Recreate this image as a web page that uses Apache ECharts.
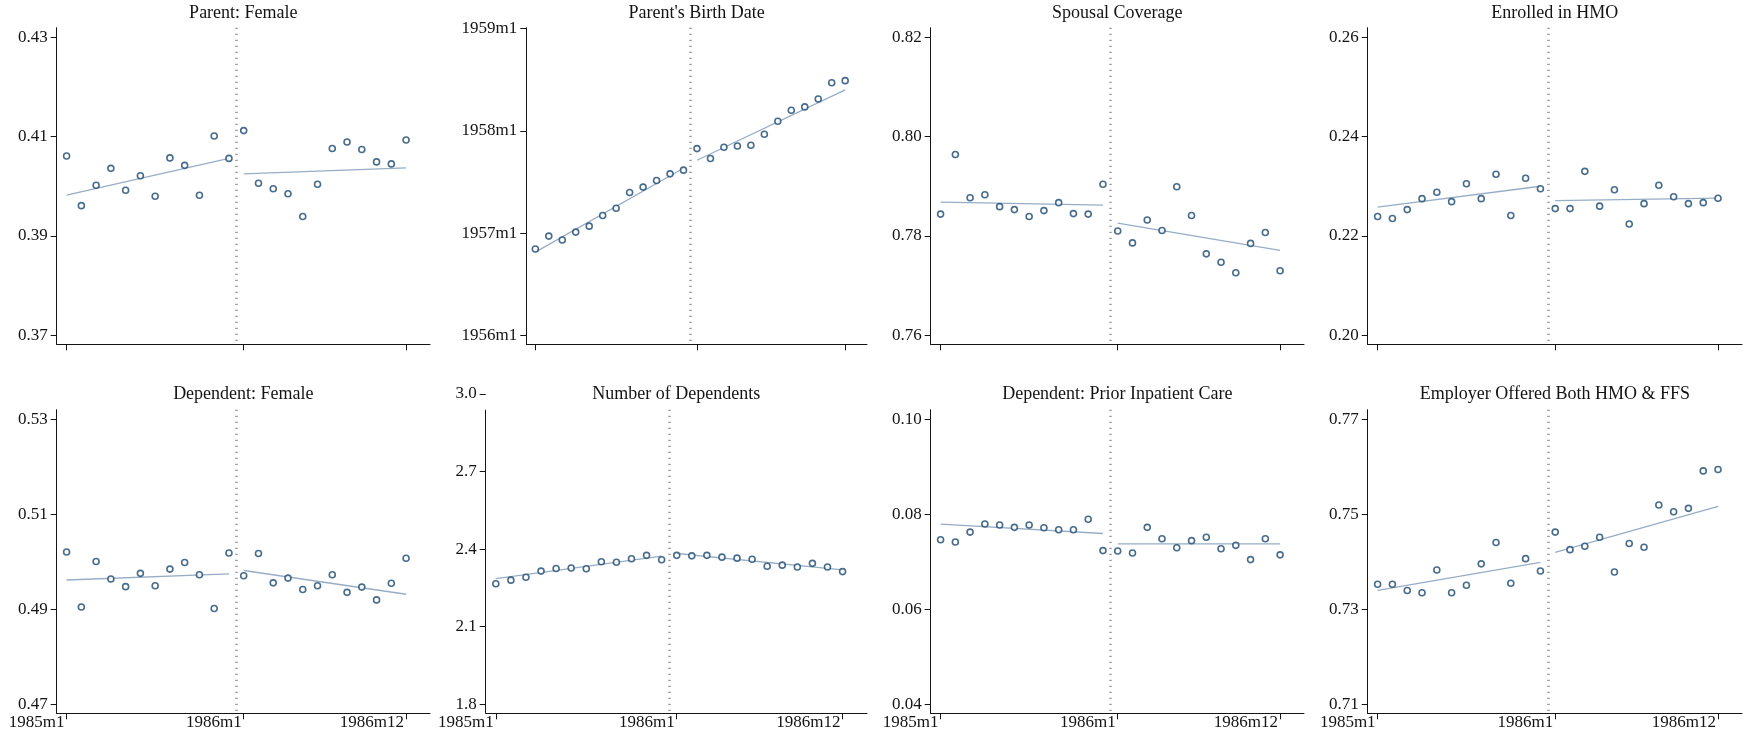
<!DOCTYPE html>
<html>
<head>
<meta charset="utf-8">
<script src="https://cdn.jsdelivr.net/npm/echarts@6/dist/echarts.min.js"></script>
<style>
  html, body { margin: 0; padding: 0; background: #ffffff; }
  #chart { width: 1748px; height: 738px; }
</style>
</head>
<body>
<div id="chart"></div>
<script>
// Month labels for the 24 monthly cells (x = 0 .. 23)
const monthLabels = ['1985m1', '1985m2', '1985m3', '1985m4', '1985m5', '1985m6',
  '1985m7', '1985m8', '1985m9', '1985m10', '1985m11', '1985m12',
  '1986m1', '1986m2', '1986m3', '1986m4', '1986m5', '1986m6',
  '1986m7', '1986m8', '1986m9', '1986m10', '1986m11', '1986m12'];
const xTickMonths = [0, 12, 23];
const cutoffMonth = 11.5;

// Monthly means; fits are [pre start, pre end, post start, post end]
const parentFemale = [0.4061, 0.3961, 0.4002, 0.4036, 0.3992, 0.4021, 0.3980, 0.4057, 0.4042, 0.3982, 0.4101, 0.4056,
  0.4112, 0.4006, 0.3995, 0.3985, 0.3939, 0.4004, 0.4076, 0.4089, 0.4074, 0.4049, 0.4045, 0.4093];
const parentFemaleFit = [0.3982, 0.4056, 0.4025, 0.4037];
const parentFemaleTicks = [0.37, 0.39, 0.41, 0.43];

const parentBirth = [1956.844, 1956.971, 1956.932, 1957.010, 1957.068, 1957.173, 1957.244, 1957.397, 1957.450, 1957.515, 1957.580, 1957.616,
  1957.827, 1957.730, 1957.840, 1957.853, 1957.860, 1957.967, 1958.094, 1958.202, 1958.235, 1958.313, 1958.472, 1958.492];
const parentBirthFit = [1956.814, 1957.635, 1957.713, 1958.401];
const parentBirthTicks = [1956, 1957, 1958, 1959];

const spousalCoverage = [0.7844, 0.7964, 0.7877, 0.7883, 0.7859, 0.7853, 0.7839, 0.7851, 0.7867, 0.7845, 0.7844, 0.7904,
  0.7810, 0.7786, 0.7832, 0.7811, 0.7899, 0.7841, 0.7764, 0.7747, 0.7726, 0.7785, 0.7807, 0.7730];
const spousalCoverageFit = [0.7868, 0.7862, 0.7826, 0.7771];
const spousalCoverageTicks = [0.76, 0.78, 0.80, 0.82];

const enrolledHMO = [0.2239, 0.2235, 0.2253, 0.2275, 0.2288, 0.2269, 0.2305, 0.2275, 0.2324, 0.2241, 0.2316, 0.2295,
  0.2255, 0.2255, 0.2330, 0.2260, 0.2293, 0.2224, 0.2265, 0.2302, 0.2279, 0.2265, 0.2267, 0.2276];
const enrolledHMOFit = [0.2258, 0.2300, 0.2271, 0.2276];
const enrolledHMOTicks = [0.20, 0.22, 0.24, 0.26];

const dependentFemale = [0.5021, 0.4905, 0.5001, 0.4964, 0.4948, 0.4976, 0.4950, 0.4985, 0.4999, 0.4973, 0.4902, 0.5019,
  0.4971, 0.5018, 0.4956, 0.4966, 0.4942, 0.4950, 0.4973, 0.4936, 0.4947, 0.4920, 0.4955, 0.5008];
const dependentFemaleFit = [0.4962, 0.4975, 0.4982, 0.4932];
const dependentFemaleTicks = [0.47, 0.49, 0.51, 0.53];

const numberDependents = [2.266, 2.280, 2.291, 2.315, 2.325, 2.327, 2.324, 2.351, 2.349, 2.363, 2.376, 2.359,
  2.376, 2.374, 2.376, 2.369, 2.365, 2.361, 2.334, 2.338, 2.331, 2.345, 2.331, 2.313];
const numberDependentsFit = [2.286, 2.373, 2.383, 2.320];
const numberDependentsTicks = [1.8, 2.1, 2.4, 2.7, 3.0];

const priorInpatient = [0.0747, 0.0742, 0.0763, 0.0780, 0.0778, 0.0773, 0.0778, 0.0772, 0.0768, 0.0768, 0.0790, 0.0724,
  0.0723, 0.0719, 0.0773, 0.0749, 0.0730, 0.0745, 0.0752, 0.0728, 0.0735, 0.0705, 0.0749, 0.0715];
const priorInpatientFit = [0.0780, 0.0760, 0.0738, 0.0738];
const priorInpatientTicks = [0.04, 0.06, 0.08, 0.10];

const bothOffered = [0.7353, 0.7353, 0.7340, 0.7335, 0.7383, 0.7335, 0.7351, 0.7396, 0.7441, 0.7355, 0.7407, 0.7381,
  0.7463, 0.7426, 0.7433, 0.7452, 0.7379, 0.7439, 0.7431, 0.7520, 0.7506, 0.7513, 0.7592, 0.7595];
const bothOfferedFit = [0.7340, 0.7399, 0.7420, 0.7517];
const bothOfferedTicks = [0.71, 0.73, 0.75, 0.77];

// Panel layout (pixel boxes of each plot region and its y range)
const X_MIN = -0.67, X_MAX = 24.62;
const ROW_TOP = { y0: 27.7, y1: 344.3 };
const ROW_BOTTOM = { y0: 409.7, y1: 713.3 };
const fmt2 = v => v.toFixed(2);

const panels = [
  { title: 'Parent: Female', values: parentFemale, fit: parentFemaleFit, ticks: parentFemaleTicks,
    fmt: fmt2, x0: 56.7, x1: 430, row: ROW_TOP, yMin: 0.3682, yMax: 0.4319 },
  { title: "Parent's Birth Date", values: parentBirth, fit: parentBirthFit, ticks: parentBirthTicks,
    fmt: v => Math.round(v) + 'm1', x0: 526.3, x1: 867, row: ROW_TOP, yMin: 1955.912, yMax: 1959.01 },
  { title: 'Spousal Coverage', values: spousalCoverage, fit: spousalCoverageFit, ticks: spousalCoverageTicks,
    fmt: fmt2, x0: 930.7, x1: 1304, row: ROW_TOP, yMin: 0.7582, yMax: 0.8219 },
  { title: 'Enrolled in HMO', values: enrolledHMO, fit: enrolledHMOFit, ticks: enrolledHMOTicks,
    fmt: fmt2, x0: 1367.7, x1: 1742, row: ROW_TOP, yMin: 0.1982, yMax: 0.2619 },
  { title: 'Dependent: Female', values: dependentFemale, fit: dependentFemaleFit, ticks: dependentFemaleTicks,
    fmt: fmt2, x0: 56.7, x1: 430, row: ROW_BOTTOM, yMin: 0.4681, yMax: 0.5321, xLabels: true },
  // the 3.0 tick sits above the drawn axis line, so the plot box reaches up to 3.0
  { title: 'Number of Dependents', values: numberDependents, fit: numberDependentsFit, ticks: numberDependentsTicks,
    fmt: v => v.toFixed(1), x0: 485.7, x1: 867, row: { y0: 394, y1: 713.3 }, yMin: 1.765, yMax: 3.0,
    lineTop: 2.939, titleTop: 385, xLabels: true },
  { title: 'Dependent: Prior Inpatient Care', values: priorInpatient, fit: priorInpatientFit, ticks: priorInpatientTicks,
    fmt: fmt2, x0: 930.7, x1: 1304, row: ROW_BOTTOM, yMin: 0.0381, yMax: 0.1021, xLabels: true },
  { title: 'Employer Offered Both HMO & FFS', values: bothOffered, fit: bothOfferedFit, ticks: bothOfferedTicks,
    fmt: fmt2, x0: 1367.7, x1: 1742, row: ROW_BOTTOM, yMin: 0.7081, yMax: 0.7721, xLabels: true }
];

const FONT = 'Liberation Serif';
const INK = '#141414';
const MARKER = '#1a476f';
const FIT = '#97adc6';
const CUTOFF = '#9a9a9a';

const grids = [], xAxes = [], yAxes = [], titles = [], series = [];

panels.forEach((p, i) => {
  grids.push({ left: p.x0, top: p.row.y0, width: p.x1 - p.x0, height: p.row.y1 - p.row.y0, containLabel: false });

  titles.push({
    text: p.title,
    left: (p.x0 + p.x1) / 2,
    top: p.titleTop !== undefined ? p.titleTop : (p.row === ROW_TOP ? 4 : 385),
    textAlign: 'center',
    padding: 0,
    textStyle: { fontFamily: FONT, fontSize: 18, fontWeight: 'normal', color: INK }
  });

  xAxes.push({
    type: 'value', gridIndex: i, min: X_MIN, max: X_MAX,
    splitLine: { show: false },
    axisLine: { show: true, onZero: false, lineStyle: { color: INK, width: 1 } },
    axisTick: { show: true, length: 6, customValues: xTickMonths, lineStyle: { color: INK, width: 1 } },
    axisLabel: {
      show: !!p.xLabels, customValues: xTickMonths, margin: 1,
      align: 'right', verticalAlign: 'top', padding: [0, 2, 0, 0],
      fontFamily: FONT, fontSize: 17, lineHeight: 17, color: INK,
      formatter: v => monthLabels[Math.round(v)]
    }
  });

  yAxes.push({
    type: 'value', gridIndex: i, min: p.yMin, max: p.yMax,
    splitLine: { show: false },
    axisLine: { show: p.lineTop === undefined, onZero: false, lineStyle: { color: INK, width: 1 } },
    axisTick: { show: true, length: 6, customValues: p.ticks, lineStyle: { color: INK, width: 1 } },
    axisLabel: {
      show: true, customValues: p.ticks, margin: 9,
      fontFamily: FONT, fontSize: 17, color: INK,
      formatter: p.fmt
    }
  });

  const cutoffLine = {
    silent: true, symbol: ['none', 'none'], animation: false,
    label: { show: false },
    lineStyle: { color: CUTOFF, width: 2.5, type: [1.2, 4.8] },
    data: [
      [{ coord: [cutoffMonth, p.lineTop !== undefined ? p.lineTop : p.yMax] }, { coord: [cutoffMonth, p.yMin] }]
    ]
  };

  series.push({
    type: 'scatter', xAxisIndex: i, yAxisIndex: i, z: 3,
    symbol: 'circle', symbolSize: 6,
    itemStyle: { color: '#ffffff', borderColor: MARKER, borderWidth: 1.6 },
    data: p.values.map((v, m) => [m, v]),
    markLine: cutoffLine
  });

  // left-hand y axis line for the panel whose tick range overruns the line
  if (p.lineTop !== undefined) {
    series.push({
      type: 'line', xAxisIndex: i, yAxisIndex: i, data: [], silent: true,
      markLine: {
        silent: true, symbol: ['none', 'none'], animation: false, label: { show: false },
        lineStyle: { color: INK, width: 1, type: 'solid' },
        data: [[{ coord: [X_MIN, p.lineTop] }, { coord: [X_MIN, p.yMin] }]]
      }
    });
  }

  series.push({
    type: 'line', xAxisIndex: i, yAxisIndex: i, z: 2, symbol: 'none', silent: true,
    lineStyle: { color: FIT, width: 1.3 },
    data: [[0, p.fit[0]], [11, p.fit[1]]]
  });
  series.push({
    type: 'line', xAxisIndex: i, yAxisIndex: i, z: 2, symbol: 'none', silent: true,
    lineStyle: { color: FIT, width: 1.3 },
    data: [[12, p.fit[2]], [23, p.fit[3]]]
  });
});

const chart = echarts.init(document.getElementById('chart'), null, { renderer: 'canvas' });
chart.setOption({
  animation: false,
  backgroundColor: '#ffffff',
  title: titles,
  grid: grids,
  xAxis: xAxes,
  yAxis: yAxes,
  series: series
});
</script>
</body>
</html>
